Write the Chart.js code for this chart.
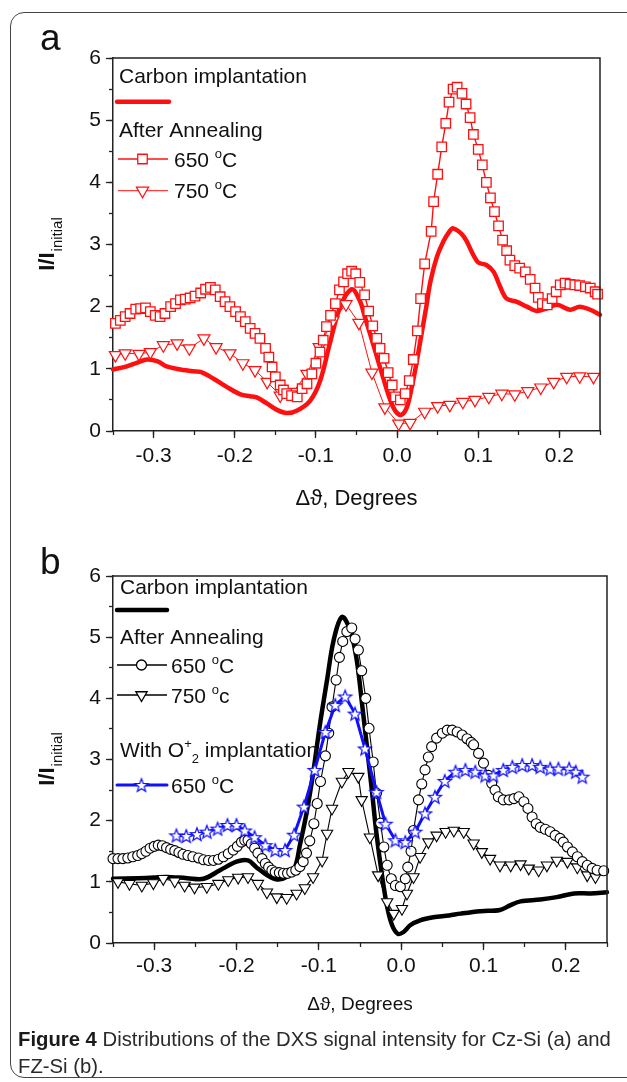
<!DOCTYPE html>
<html>
<head>
<meta charset="utf-8">
<script src="https://cdn.jsdelivr.net/npm/chart.js@4.4.1/dist/chart.umd.min.js"></script>
<style>
  body { margin: 0; background: #fff; width: 627px; height: 1082px; overflow: hidden; position: relative; font-family: "Liberation Sans", Arial, sans-serif; }
  #frame { position: absolute; left: 10px; top: 12px; width: 680px; height: 1064px; border: 1.5px solid #444; border-radius: 14px; }
  .panel { position: absolute; left: 40px; font-size: 37px; line-height: 37px; color: #111; }
  #wrapA { position: absolute; left: 0; top: 0; }
  #wrapB { position: absolute; left: 0; top: 530px; }
  #caption { position: absolute; left: 18px; top: 1026px; font-size: 20.3px; line-height: 27px; color: #2a2a2a; white-space: nowrap; }
  #caption b { color: #1a1a1a; }
</style>
</head>
<body>
<div id="frame"></div>
<div id="wrapA"><canvas id="chartA" width="627" height="530"></canvas></div>
<div id="wrapB"><canvas id="chartB" width="627" height="500"></canvas></div>
<div class="panel" style="top:19px">a</div>
<div class="panel" style="top:543px">b</div>
<div id="caption"><b>Figure 4</b> Distributions of the DXS signal intensity for Cz-Si (a) and<br>FZ-Si (b).</div>

<script>
// ---- panel a: Cz-Si ----
const aCarbonX = [-0.350, -0.333, -0.320, -0.308, -0.295, -0.284, -0.267, -0.251, -0.242, -0.226, -0.210, -0.193, -0.181, -0.173, -0.160, -0.148, -0.136, -0.123, -0.107, -0.095, -0.083, -0.070, -0.056, -0.046, -0.040, -0.033, -0.025, -0.017, -0.009, -0.002, 0.005, 0.012, 0.018, 0.024, 0.030, 0.036, 0.041, 0.049, 0.057, 0.064, 0.069, 0.082, 0.094, 0.100, 0.110, 0.119, 0.127, 0.135, 0.147, 0.160, 0.172, 0.184, 0.197, 0.213, 0.225, 0.238, 0.250];
const aCarbonY = [0.99, 1.04, 1.10, 1.15, 1.12, 1.04, 0.99, 0.96, 0.95, 0.84, 0.71, 0.59, 0.56, 0.54, 0.44, 0.34, 0.29, 0.33, 0.49, 0.80, 1.40, 2.00, 2.28, 2.10, 1.85, 1.55, 1.20, 0.85, 0.52, 0.32, 0.26, 0.38, 0.70, 1.10, 1.55, 2.00, 2.40, 2.80, 3.05, 3.20, 3.26, 3.13, 2.83, 2.71, 2.67, 2.56, 2.32, 2.13, 2.08, 2.00, 1.93, 1.97, 2.03, 1.95, 2.00, 1.95, 1.87];

const a650X = [-0.347, -0.341, -0.335, -0.329, -0.322, -0.316, -0.310, -0.304, -0.298, -0.292, -0.286, -0.279, -0.273, -0.267, -0.261, -0.255, -0.249, -0.242, -0.236, -0.230, -0.224, -0.218, -0.212, -0.206, -0.199, -0.193, -0.187, -0.181, -0.175, -0.169, -0.162, -0.158, -0.154, -0.150, -0.144, -0.140, -0.136, -0.130, -0.123, -0.117, -0.111, -0.105, -0.100, -0.095, -0.091, -0.087, -0.082, -0.076, -0.071, -0.066, -0.061, -0.056, -0.051, -0.046, -0.040, -0.035, -0.030, -0.025, -0.021, -0.016, -0.011, -0.006, -0.002, 0.004, 0.010, 0.015, 0.020, 0.025, 0.029, 0.034, 0.042, 0.045, 0.050, 0.055, 0.060, 0.064, 0.069, 0.074, 0.080, 0.085, 0.090, 0.094, 0.100, 0.105, 0.110, 0.115, 0.120, 0.125, 0.130, 0.135, 0.139, 0.145, 0.151, 0.158, 0.164, 0.170, 0.174, 0.179, 0.185, 0.191, 0.196, 0.201, 0.207, 0.213, 0.219, 0.225, 0.232, 0.238, 0.244, 0.247];
const a650Y = [1.73, 1.78, 1.84, 1.89, 1.96, 1.97, 1.98, 1.92, 1.86, 1.84, 1.89, 2.00, 2.05, 2.11, 2.12, 2.14, 2.17, 2.22, 2.28, 2.31, 2.27, 2.16, 2.08, 2.00, 1.92, 1.84, 1.76, 1.65, 1.57, 1.49, 1.33, 1.19, 1.03, 0.87, 0.74, 0.66, 0.60, 0.57, 0.55, 0.68, 0.76, 0.92, 1.09, 1.27, 1.46, 1.68, 1.86, 2.05, 2.27, 2.40, 2.53, 2.57, 2.53, 2.39, 2.19, 1.93, 1.69, 1.49, 1.33, 1.17, 0.94, 0.74, 0.55, 0.50, 0.60, 0.81, 1.15, 1.61, 2.13, 2.69, 3.21, 3.69, 4.13, 4.57, 4.95, 5.29, 5.50, 5.53, 5.43, 5.26, 5.04, 4.77, 4.53, 4.28, 4.00, 3.75, 3.53, 3.30, 3.07, 2.90, 2.75, 2.66, 2.62, 2.56, 2.44, 2.30, 2.15, 2.05, 2.03, 2.13, 2.24, 2.35, 2.38, 2.36, 2.35, 2.34, 2.32, 2.30, 2.24, 2.20];

const a750X = [-0.347, -0.335, -0.318, -0.304, -0.288, -0.271, -0.256, -0.238, -0.223, -0.206, -0.190, -0.175, -0.160, -0.144, -0.128, -0.111, -0.096, -0.079, -0.063, -0.047, -0.031, -0.015, 0.002, 0.016, 0.034, 0.050, 0.065, 0.081, 0.096, 0.113, 0.129, 0.145, 0.161, 0.177, 0.193, 0.209, 0.225, 0.242];
const a750Y = [1.22, 1.25, 1.24, 1.27, 1.38, 1.41, 1.33, 1.49, 1.35, 1.25, 1.09, 0.98, 0.79, 0.57, 0.63, 0.92, 1.35, 1.78, 2.04, 1.74, 0.94, 0.38, 0.12, 0.13, 0.31, 0.40, 0.42, 0.47, 0.50, 0.55, 0.60, 0.59, 0.64, 0.70, 0.79, 0.87, 0.88, 0.87];

// ---- panel b: FZ-Si ----
const bCarbonX = [-0.350, -0.320, -0.300, -0.285, -0.260, -0.240, -0.220, -0.200, -0.186, -0.176, -0.163, -0.151, -0.139, -0.129, -0.123, -0.115, -0.107, -0.099, -0.090, -0.082, -0.072, -0.062, -0.054, -0.048, -0.042, -0.036, -0.030, -0.023, -0.017, -0.011, -0.004, 0.003, 0.011, 0.023, 0.039, 0.058, 0.072, 0.096, 0.120, 0.133, 0.145, 0.169, 0.189, 0.210, 0.230, 0.250];
const bCarbonY = [1.05, 1.06, 1.07, 1.08, 1.06, 1.05, 1.19, 1.33, 1.35, 1.24, 1.11, 1.04, 1.08, 1.24, 1.60, 2.12, 2.77, 3.54, 4.30, 4.95, 5.33, 5.12, 4.63, 3.97, 3.26, 2.55, 1.79, 1.08, 0.59, 0.29, 0.15, 0.18, 0.29, 0.37, 0.42, 0.45, 0.48, 0.52, 0.54, 0.62, 0.68, 0.71, 0.75, 0.81, 0.81, 0.83];

const b650X = [-0.350, -0.344, -0.338, -0.332, -0.326, -0.320, -0.315, -0.310, -0.305, -0.300, -0.295, -0.290, -0.285, -0.280, -0.275, -0.270, -0.265, -0.259, -0.253, -0.246, -0.240, -0.234, -0.228, -0.222, -0.216, -0.210, -0.204, -0.199, -0.194, -0.190, -0.186, -0.182, -0.178, -0.174, -0.169, -0.165, -0.161, -0.157, -0.153, -0.148, -0.143, -0.138, -0.133, -0.128, -0.123, -0.119, -0.115, -0.111, -0.106, -0.102, -0.098, -0.092, -0.088, -0.084, -0.079, -0.075, -0.071, -0.066, -0.060, -0.056, -0.052, -0.048, -0.043, -0.039, -0.034, -0.030, -0.025, -0.021, -0.017, -0.012, -0.007, -0.001, 0.005, 0.008, 0.012, 0.015, 0.021, 0.025, 0.029, 0.033, 0.037, 0.043, 0.050, 0.056, 0.062, 0.068, 0.074, 0.080, 0.085, 0.088, 0.094, 0.100, 0.106, 0.110, 0.114, 0.118, 0.124, 0.131, 0.137, 0.143, 0.149, 0.154, 0.159, 0.164, 0.169, 0.175, 0.181, 0.187, 0.193, 0.197, 0.202, 0.208, 0.214, 0.220, 0.226, 0.232, 0.238, 0.246];
const b650Y = [1.38, 1.38, 1.38, 1.39, 1.41, 1.43, 1.46, 1.50, 1.55, 1.58, 1.60, 1.59, 1.56, 1.53, 1.51, 1.48, 1.45, 1.43, 1.41, 1.39, 1.36, 1.35, 1.35, 1.37, 1.41, 1.46, 1.52, 1.58, 1.65, 1.68, 1.68, 1.62, 1.55, 1.47, 1.38, 1.30, 1.24, 1.19, 1.16, 1.15, 1.14, 1.14, 1.16, 1.19, 1.25, 1.33, 1.47, 1.67, 1.95, 2.28, 2.64, 3.06, 3.43, 3.86, 4.30, 4.67, 4.93, 5.09, 5.15, 4.97, 4.79, 4.45, 4.00, 3.51, 2.96, 2.45, 1.96, 1.57, 1.27, 1.05, 0.94, 0.92, 1.05, 1.24, 1.50, 1.84, 2.34, 2.60, 2.83, 3.04, 3.21, 3.35, 3.43, 3.48, 3.48, 3.45, 3.40, 3.34, 3.28, 3.24, 3.10, 2.94, 2.74, 2.61, 2.50, 2.39, 2.34, 2.34, 2.36, 2.39, 2.31, 2.20, 2.06, 1.95, 1.89, 1.86, 1.82, 1.76, 1.71, 1.65, 1.57, 1.49, 1.41, 1.33, 1.27, 1.22, 1.19, 1.18];

const b750X = [-0.344, -0.330, -0.315, -0.301, -0.289, -0.275, -0.263, -0.251, -0.236, -0.222, -0.210, -0.198, -0.186, -0.174, -0.163, -0.151, -0.139, -0.127, -0.117, -0.107, -0.096, -0.090, -0.084, -0.072, -0.064, -0.052, -0.048, -0.038, -0.028, -0.017, -0.009, 0.001, 0.007, 0.015, 0.023, 0.033, 0.043, 0.054, 0.064, 0.076, 0.088, 0.098, 0.108, 0.120, 0.133, 0.145, 0.155, 0.167, 0.177, 0.189, 0.202, 0.214, 0.226, 0.236];
const b750Y = [1.00, 0.97, 0.94, 0.98, 1.05, 1.01, 0.94, 0.91, 0.92, 0.97, 1.03, 1.07, 1.08, 0.97, 0.83, 0.75, 0.74, 0.81, 0.90, 1.08, 1.35, 1.79, 2.20, 2.64, 2.80, 2.72, 2.34, 1.73, 1.11, 0.67, 0.48, 0.56, 0.81, 1.08, 1.41, 1.65, 1.76, 1.82, 1.84, 1.82, 1.63, 1.49, 1.38, 1.27, 1.27, 1.29, 1.22, 1.19, 1.27, 1.35, 1.33, 1.24, 1.11, 1.08];

const bO2X = [-0.273, -0.261, -0.248, -0.236, -0.223, -0.211, -0.200, -0.190, -0.178, -0.165, -0.153, -0.141, -0.130, -0.118, -0.105, -0.092, -0.080, -0.068, -0.056, -0.044, -0.030, -0.019, -0.007, 0.005, 0.017, 0.029, 0.041, 0.053, 0.066, 0.078, 0.090, 0.102, 0.112, 0.124, 0.135, 0.147, 0.159, 0.169, 0.181, 0.191, 0.204, 0.212, 0.220];
const bO2Y = [1.76, 1.75, 1.78, 1.82, 1.87, 1.93, 1.93, 1.84, 1.73, 1.60, 1.52, 1.52, 1.77, 2.23, 2.83, 3.45, 3.89, 4.03, 3.75, 3.18, 2.47, 1.95, 1.68, 1.65, 1.82, 2.12, 2.39, 2.65, 2.80, 2.83, 2.80, 2.74, 2.74, 2.83, 2.88, 2.91, 2.91, 2.88, 2.85, 2.85, 2.85, 2.80, 2.72];

const xTicks = [-0.3, -0.2, -0.1, 0.0, 0.1, 0.2];
const yTicks = [0, 1, 2, 3, 4, 5, 6];

const FONT = '"Liberation Sans", Arial, sans-serif';
const INK = '#111';
const AXIS = '#222';

function pts(xs, ys) {
  return xs.map((x, i) => ({ x: x, y: ys[i] }));
}

function makeStar(r, color) {
  const c = document.createElement('canvas');
  const s = Math.ceil(r * 2 + 4);
  c.width = s; c.height = s;
  const g = c.getContext('2d');
  g.translate(s / 2, s / 2 + r * 0.1);
  g.beginPath();
  for (let i = 0; i < 10; i++) {
    const rad = i % 2 ? r * 0.42 : r;
    const a = -Math.PI / 2 + i * Math.PI / 5;
    g.lineTo(rad * Math.cos(a), rad * Math.sin(a));
  }
  g.closePath();
  g.fillStyle = '#fff';
  g.fill();
  g.strokeStyle = color;
  g.lineWidth = 1.2;
  g.stroke();
  return c;
}
const starImg = makeStar(7, '#1010ff');

// rich text: segments {t, sup, sub}
function drawRich(ctx, segs, x, base, size) {
  let cx = x;
  segs.forEach(s => {
    let fs = size, dy = 0;
    if (s.sup) { fs = size * 0.62; dy = -size * 0.42; }
    if (s.sub) { fs = size * 0.62; dy = size * 0.3; }
    ctx.font = fs + 'px ' + FONT;
    ctx.fillText(s.t, cx, base + dy);
    cx += ctx.measureText(s.t).width;
  });
}

function drawSample(ctx, item, x1, x2, y) {
  ctx.save();
  ctx.strokeStyle = item.color;
  ctx.lineWidth = item.width;
  ctx.lineCap = item.width > 2 ? 'round' : 'butt';
  ctx.beginPath(); ctx.moveTo(x1, y); ctx.lineTo(x2, y); ctx.stroke();
  const mx = (x1 + x2) / 2 - 0.5;
  if (item.image) {
    ctx.drawImage(item.image, mx - item.image.width / 2, y - item.image.height / 2);
  } else if (item.style) {
    ctx.fillStyle = '#fff';
    ctx.strokeStyle = item.color;
    ctx.lineWidth = 1.3;
    Chart.helpers.drawPoint(ctx, { pointStyle: item.style, radius: item.radius, rotation: item.rotation || 0, borderWidth: 1.3 }, mx, y);
  }
  ctx.restore();
}

function notesPlugin(cfg) {
  return {
    id: 'notes',
    afterDraw(chart) {
      const ctx = chart.ctx;
      const a = chart.chartArea;
      ctx.save();
      // top and right frame lines
      ctx.strokeStyle = AXIS;
      ctx.lineWidth = 1.5;
      ctx.beginPath();
      ctx.moveTo(a.left, a.top); ctx.lineTo(a.right, a.top); ctx.lineTo(a.right, a.bottom);
      ctx.stroke();

      // y axis title I/I_initial
      ctx.fillStyle = INK;
      ctx.translate(54, (a.top + a.bottom) / 2);
      ctx.rotate(-Math.PI / 2);
      ctx.font = 'bold 22px ' + FONT;
      const w1 = ctx.measureText('I/I').width;
      ctx.font = '15px ' + FONT;
      const w2 = ctx.measureText('initial').width;
      const x0 = -(w1 + w2) / 2;
      ctx.font = 'bold 22px ' + FONT;
      ctx.fillText('I/I', x0, 0);
      ctx.font = '15px ' + FONT;
      ctx.fillText('initial', x0 + w1 + 1, 8);
      ctx.restore();

      // legend block
      ctx.save();
      ctx.fillStyle = INK;
      ctx.textBaseline = 'alphabetic';
      cfg.legend.forEach(it => {
        if (it.sample) drawSample(ctx, it.sample, it.x1, it.x2, it.y);
        if (it.text) drawRich(ctx, it.text, it.tx, it.base, 21);
      });
      ctx.restore();
    }
  };
}

function buildOptions(p) {
  const tickFont = { family: FONT, size: 21 };
  return {
    responsive: false,
    animation: false,
    events: [],
    layout: { padding: { top: p.top, right: p.right, left: 0, bottom: 0 } },
    plugins: { legend: { display: false }, tooltip: { enabled: false } },
    elements: { line: { borderCapStyle: 'round', borderJoinStyle: 'round' } },
    scales: {
      xMinor: {
        type: 'linear', position: 'bottom', weight: -1, min: -0.35, max: 0.25,
        ticks: { stepSize: 0.05, display: false },
        grid: { drawOnChartArea: false, tickLength: 4, tickColor: AXIS, tickWidth: 1.3 },
        border: { display: false },
        afterFit: s => { s.height = 0; }
      },
      x: {
        type: 'linear', position: 'bottom', min: -0.35, max: 0.25,
        afterBuildTicks: s => { s.ticks = xTicks.map(v => ({ value: v })); },
        ticks: { callback: v => v.toFixed(1), font: tickFont, color: INK, padding: p.xPad, maxRotation: 0 },
        grid: { drawOnChartArea: false, tickLength: 7, tickColor: AXIS, tickWidth: 1.3 },
        border: { color: AXIS, width: 1.5 },
        title: { display: true, text: 'Δϑ, Degrees', color: INK, font: { family: FONT, size: p.titleSize }, padding: { top: 0, bottom: p.titlePad } },
        afterFit: s => { s.height = p.xHeight; }
      },
      yMinor: {
        type: 'linear', position: 'left', weight: -1, min: 0, max: 6,
        ticks: { stepSize: 0.5, display: false },
        grid: { drawOnChartArea: false, tickLength: 4, tickColor: AXIS, tickWidth: 1.3 },
        border: { display: false },
        afterFit: s => { s.width = 0; }
      },
      y: {
        type: 'linear', position: 'left', min: 0, max: 6,
        afterBuildTicks: s => { s.ticks = yTicks.map(v => ({ value: v })); },
        ticks: { font: tickFont, color: INK, padding: 5 },
        grid: { drawOnChartArea: false, tickLength: 7, tickColor: AXIS, tickWidth: 1.3 },
        border: { color: AXIS, width: 1.5 },
        afterFit: s => { s.width = 113; }
      }
    }
  };
}

const RED = '#ff1010';

new Chart(document.getElementById('chartA'), {
  type: 'scatter',
  data: {
    datasets: [
      { label: 'Carbon implantation', data: pts(aCarbonX, aCarbonY), showLine: true, borderColor: RED, borderWidth: 4.5, pointRadius: 0, tension: 0.35, order: 3, clip: false },
      { label: '650 °C', data: pts(a650X, a650Y), showLine: true, borderColor: RED, borderWidth: 1.4, pointStyle: 'rect', pointRadius: 6.7, pointBorderWidth: 1.3, pointBorderColor: RED, pointBackgroundColor: '#fff', order: 1, clip: false },
      { label: '750 °C', data: pts(a750X, a750Y), showLine: true, borderColor: RED, borderWidth: 1, pointStyle: 'triangle', pointRotation: 180, pointRadius: 7, pointBorderWidth: 1.2, pointBorderColor: RED, pointBackgroundColor: '#fff', order: 2, clip: false }
    ]
  },
  options: buildOptions({ top: 58, right: 27, xHeight: 99, xPad: 6, titleSize: 22, titlePad: 18 }),
  plugins: [notesPlugin({
    legend: [
      { text: [{ t: 'Carbon implantation' }], tx: 119, base: 83 },
      { sample: { color: RED, width: 4.5 }, x1: 117, x2: 169, y: 101.7 },
      { text: [{ t: 'After Annealing' }], tx: 119, base: 136.5 },
      { sample: { color: RED, width: 1.4, style: 'rect', radius: 6.7 }, x1: 118, x2: 168, y: 159, text: [{ t: '650 ' }, { t: 'o', sup: true }, { t: 'C' }], tx: 174, base: 166.5 },
      { sample: { color: RED, width: 1, style: 'triangle', radius: 7, rotation: 180 }, x1: 118, x2: 168, y: 190.7, text: [{ t: '750 ' }, { t: 'o', sup: true }, { t: 'C' }], tx: 174, base: 198 }
    ]
  })]
});

const BLUE = '#1010ff';

new Chart(document.getElementById('chartB'), {
  type: 'scatter',
  data: {
    datasets: [
      { label: 'Carbon implantation', data: pts(bCarbonX, bCarbonY), showLine: true, borderColor: '#000', borderWidth: 4.5, pointRadius: 0, tension: 0.35, order: 4, clip: false },
      { label: '750 °c', data: pts(b750X, b750Y), showLine: true, borderColor: '#000', borderWidth: 1.1, pointStyle: 'triangle', pointRotation: 180, pointRadius: 6.5, pointBorderWidth: 1.1, pointBorderColor: '#000', pointBackgroundColor: '#fff', order: 3, clip: false },
      { label: '650 °C', data: pts(b650X, b650Y), showLine: true, borderColor: '#000', borderWidth: 1.1, pointStyle: 'circle', pointRadius: 5, pointBorderWidth: 1.1, pointBorderColor: '#000', pointBackgroundColor: '#fff', order: 2, clip: false },
      { label: 'With O2+ 650 °C', data: pts(bO2X, bO2Y), showLine: true, borderColor: BLUE, borderWidth: 3, pointStyle: starImg, pointRadius: 7, order: 1, clip: false }
    ]
  },
  options: buildOptions({ top: 46, right: 20, xHeight: 87, xPad: 4, titleSize: 19, titlePad: 14 }),
  plugins: [notesPlugin({
    legend: [
      { text: [{ t: 'Carbon implantation' }], tx: 120, base: 63.5 },
      { sample: { color: '#000', width: 4.5 }, x1: 117, x2: 167, y: 80 },
      { text: [{ t: 'After Annealing' }], tx: 120, base: 113.5 },
      { sample: { color: '#000', width: 1.3, style: 'circle', radius: 5 }, x1: 117, x2: 167, y: 135, text: [{ t: '650 ' }, { t: 'o', sup: true }, { t: 'C' }], tx: 171, base: 142.5 },
      { sample: { color: '#000', width: 1.3, style: 'triangle', radius: 6.5, rotation: 180 }, x1: 117, x2: 167, y: 165, text: [{ t: '750 ' }, { t: 'o', sup: true }, { t: 'c' }], tx: 171, base: 172.5 },
      { text: [{ t: 'With O' }, { t: '+', sup: true }, { t: '2', sub: true }, { t: ' implantation' }], tx: 120, base: 226.5 },
      { sample: { color: BLUE, width: 3, image: starImg }, x1: 117, x2: 167, y: 255, text: [{ t: '650 ' }, { t: 'o', sup: true }, { t: 'C' }], tx: 171, base: 262.5 }
    ]
  })]
});
</script>
</body>
</html>
